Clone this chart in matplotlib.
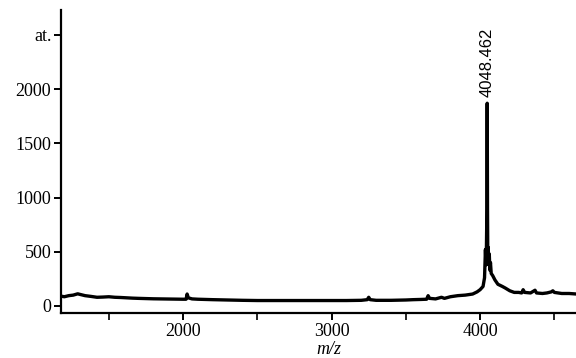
import numpy as np
import matplotlib.pyplot as plt

# spectrum (m/z, intensity)
mz = [1180, 1200, 1230, 1260, 1290, 1310, 1340, 1380, 1420, 1460, 1500, 1540,
      1580, 1620, 1660, 1700, 1750, 1800, 1850, 1900, 1950, 2000, 2020, 2027,
      2035, 2060, 2100, 2200, 2300, 2400, 2500, 2600, 2700, 2800, 2900, 3000,
      3100, 3200, 3240, 3250, 3260, 3300, 3400, 3500, 3550, 3600, 3640, 3650,
      3660, 3700, 3740, 3760, 3800, 3850, 3900, 3950, 3980, 4000, 4020, 4030,
      4036, 4040, 4043, 4046, 4048, 4050, 4052, 4055, 4058, 4062, 4066, 4070,
      4075, 4085, 4100, 4120, 4150, 4170, 4200, 4230, 4260, 4280, 4290, 4300,
      4340, 4370, 4380, 4420, 4450, 4480, 4490, 4500, 4550, 4600, 4650]
intensity = [90, 85, 95, 100, 112, 105, 95, 88, 80, 82, 85, 80,
             78, 75, 72, 70, 68, 66, 65, 64, 63, 62, 62, 110,
             75, 65, 62, 58, 55, 52, 50, 50, 50, 50, 50, 50,
             50, 52, 58, 80, 58, 52, 52, 55, 58, 60, 62, 95,
             70, 65, 80, 70, 85, 95, 100, 110, 130, 150, 180, 260,
             520, 380, 560, 900, 1870, 900, 450, 540, 380, 480, 330, 400,
             300, 280, 240, 200, 180, 165, 140, 125, 125, 120, 150, 125,
             120, 145, 120, 115, 120, 130, 140, 125, 115, 115, 110]

peak_mz = 4048.462
peak_label = "4048.462"
ytick_vals = [0, 500, 1000, 1500, 2000, 2500]
ytick_labels = ["0", "500", "1000", "1500", "2000", "at."]

plt.rcParams['font.family'] = ['Liberation Serif', 'DejaVu Serif']

fig = plt.figure(figsize=(5.76, 3.58), dpi=100)
ax = fig.add_axes([0.106, 0.126, 0.894, 0.846])

ax.plot(mz, intensity, color='black', lw=2.4, solid_joinstyle='round')

ax.set_xlim(1178, 4646)
ax.set_ylim(-64, 2730)

ax.set_xticks([2000, 3000, 4000])
ax.set_xticks([1500, 2500, 3500, 4500], minor=True)
ax.set_yticks(ytick_vals)
ax.set_yticklabels(ytick_labels)

for s in ['top', 'right']:
    ax.spines[s].set_visible(False)
for s in ['left', 'bottom']:
    ax.spines[s].set_linewidth(1.6)

ax.tick_params(axis='both', which='major', direction='out', length=5, width=1.4,
               labelsize=13, pad=2)
ax.tick_params(axis='x', which='minor', direction='out', length=5, width=1.2)

ax.set_xlabel('m/z', fontsize=13, style='italic')
ax.xaxis.set_label_coords(0.52, -0.093)

ax.text(peak_mz, 1930, peak_label, rotation=90, ha='center', va='bottom',
        fontsize=12, family='Liberation Sans')

fig.savefig('out.png', dpi=100)
